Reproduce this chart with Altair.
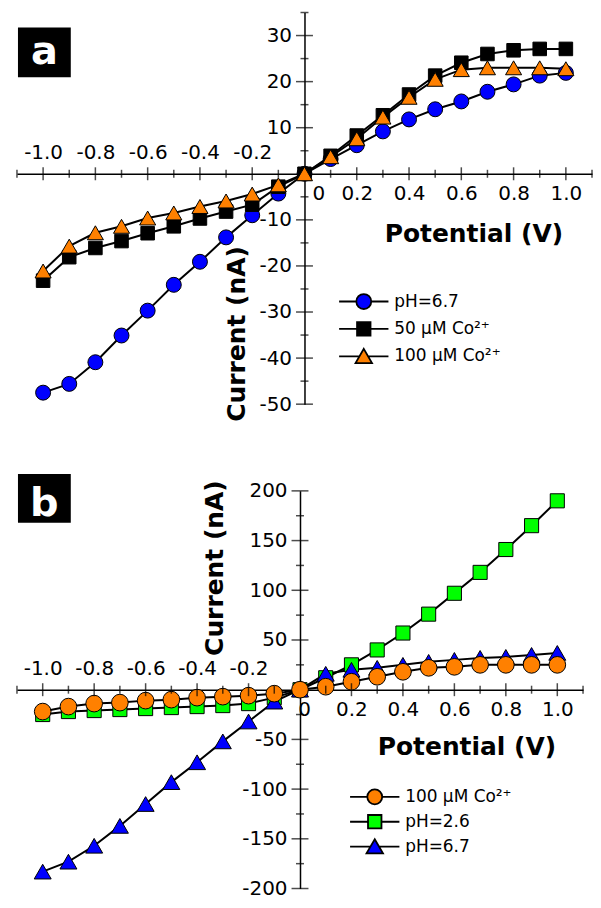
import altair as alt
import pandas as pd

FONT = "DejaVu Sans"

# ---------------- data ----------------
V = [-1.0, -0.9, -0.8, -0.7, -0.6, -0.5, -0.4, -0.3, -0.2, -0.1, 0.0,
     0.1, 0.2, 0.3, 0.4, 0.5, 0.6, 0.7, 0.8, 0.9, 1.0]

# panel a
a_names = ["pH=6.7", "50 µM Co²⁺", "100 µM Co²⁺"]
a_colors = ["#0000ff", "#000000", "#ff8000"]
a_ph67 = [-47.5, -45.6, -40.9, -35.1, -29.7, -24.1, -19.1, -13.8, -9.0, -4.3, 0.0,
          3.2, 6.2, 9.2, 11.8, 14.0, 15.7, 17.8, 19.4, 21.3, 21.9]
a_co50 = [-23.2, -18.1, -16.1, -14.6, -12.9, -11.4, -9.7, -8.2, -6.7, -2.8, 0.0,
          3.9, 8.3, 12.7, 17.2, 21.3, 24.1, 26.0, 26.8, 27.1, 27.1]
a_co100 = [-21.1, -15.7, -12.8, -11.4, -9.6, -8.5, -7.1, -5.9, -4.4, -2.4, 0.0,
           3.7, 7.6, 12.3, 16.6, 20.5, 22.6, 23.0, 23.0, 23.0, 22.8]

# panel b
b_names = ["100 µM Co²⁺", "pH=2.6", "pH=6.7"]
b_colors = ["#ff8000", "#00ff00", "#0000ff"]
b_co100 = [-22, -17, -14, -13, -11, -10, -8, -7, -6, -4, 0,
           3, 8, 13, 18, 22, 23, 25, 25, 25, 25]
b_ph26 = [-25, -22, -21, -20, -19, -18, -17, -16, -14, -8, 0,
          12, 25, 40, 57, 76, 97, 118, 141, 165, 190]
b_ph67 = [-183, -173, -157, -137, -115, -93, -73, -52, -32, -12, 0,
          16, 20, 22, 25, 28, 30, 32, 33, 35, 37]

# axes ticks / labels
x_labels = [-1.0, -0.8, -0.6, -0.4, -0.2, 0.0, 0.2, 0.4, 0.6, 0.8, 1.0]
x_major = [-1.0, -0.8, -0.6, -0.4, -0.2, 0.2, 0.4, 0.6, 0.8, 1.0]
x_minor = [-1.1, -0.9, -0.7, -0.5, -0.3, -0.1, 0.1, 0.3, 0.5, 0.7, 0.9, 1.1]
a_y_major = [-50, -40, -30, -20, -10, 10, 20, 30]
a_y_minor = [-45, -35, -25, -15, -5, 5, 15, 25, 35]
b_y_major = [-200, -150, -100, -50, 50, 100, 150, 200]
b_y_minor = [-175, -125, -75, -25, 25, 75, 125, 175]

CIRCLE_P = "M-3.3,0H-1M1,0H3.3M1,0A1,1,0,1,1,-1,0A1,1,0,1,1,1,0Z"
SQUARE_P = "M-3.3,0H-0.9M0.9,0H3.3M-0.9,-0.9H0.9V0.9H-0.9Z"
TRI_P = "M-3.3,0H-0.58M0.58,0H3.3M0,-1L1.1,0.9H-1.1Z"

X_LABEL_EXPR = ("datum.value == 0 ? '0' : "
                "(datum.value < 0 ? '-' : '') + format(abs(datum.value), '.1f')")


def panel(series, names, colors, shapes, sizes, paths, draw_order,
          xdom, ydom, W, H, y_major, y_minor, zero_shift,
          xtitle_xy, ytitle_xy, leg_xy, row_pad, box, label):
    rows = []
    for k, vals in enumerate(series):
        for v, i in zip(V, vals):
            rows.append({"V": v, "I": i, "series": names[k], "k": k})
    df = pd.DataFrame(rows)

    xscale = alt.Scale(domain=xdom, nice=False, zero=False)
    yscale = alt.Scale(domain=ydom, nice=False, zero=False)

    x_off = -(H * ydom[1] / (ydom[1] - ydom[0]))
    y_off = -(W * (0 - xdom[0]) / (xdom[1] - xdom[0]))

    # negative labels sit above the axis line, zero and positive ones below it
    xaxis = alt.Axis(
        orient="top", offset=x_off, values=x_labels, ticks=False, tickSize=0,
        grid=False, domainColor="black", domainWidth=1.5,
        labelExpr=X_LABEL_EXPR, labelLineHeight=41,
        labelBaseline={"condition": {"test": "datum.value < 0", "value": "line-bottom"},
                       "value": "line-top"},
        labelOffset={"condition": {"test": "datum.value === 0", "value": zero_shift},
                     "value": 0},
        labelFont=FONT, labelFontSize=20, labelColor="black", labelPadding=0,
        labelOverlap=False, labelFlush=False,
        title="Potential (V)", titleFont=FONT, titleFontSize=25,
        titleFontWeight="bold", titleColor="black",
        titleX=xtitle_xy[0], titleY=xtitle_xy[1],
        titleAlign="center", titleBaseline="alphabetic")
    yaxis = alt.Axis(
        orient="left", offset=y_off, values=y_major, ticks=False, tickSize=0,
        grid=False, domainColor="black", domainWidth=1.5,
        labelExpr="(datum.value < 0 ? '-' : '') + abs(datum.value)",
        labelFont=FONT, labelFontSize=20, labelColor="black", labelPadding=13,
        labelOverlap=False, labelFlush=False,
        title="Current (nA)", titleFont=FONT, titleFontSize=25,
        titleFontWeight="bold", titleColor="black", titleAngle=270,
        titleX=ytitle_xy[0], titleY=ytitle_xy[1],
        titleAlign="center", titleBaseline="middle")

    def X(f):
        return alt.X(f, scale=xscale, axis=xaxis)

    def Y(f):
        return alt.Y(f, scale=yscale, axis=yaxis)

    base = alt.Chart(df)
    lines = base.mark_line(color="black", strokeWidth=2).encode(
        x=X("V:Q"), y=Y("I:Q"), detail="k:N", order="V:Q")
    layers = [lines]
    for k in draw_order:
        layers.append(
            base.transform_filter(f"datum.k == {k}").mark_point(
                filled=True, shape=shapes[k], size=sizes[k], fill=colors[k],
                stroke="black", strokeWidth=1, opacity=1
            ).encode(x=X("V:Q"), y=Y("I:Q"))
        )

    leg = alt.Legend(
        orient="none", legendX=leg_xy[0], legendY=leg_xy[1], title=None,
        symbolSize=225, symbolStrokeWidth=1.8,
        symbolOpacity=1, labelFont=FONT, labelFontSize=17, labelColor="black",
        labelOffset=22, rowPadding=row_pad, padding=0, labelLimit=300)
    legend_layer = base.transform_filter("false").mark_point(
        filled=True, strokeWidth=1.8
    ).encode(
        x=X("V:Q"), y=Y("I:Q"),
        shape=alt.Shape("series:N", scale=alt.Scale(domain=names, range=paths), legend=leg),
        fill=alt.Fill("series:N", scale=alt.Scale(domain=names, range=colors), legend=leg),
        stroke=alt.Stroke("series:N", scale=alt.Scale(domain=names, range=["#000000"] * 3),
                          legend=leg),
    )
    layers.append(legend_layer)

    # tick marks crossing the axes
    xt_maj = alt.Chart(pd.DataFrame({"t": x_major})).mark_tick(
        orient="vertical", size=13, thickness=1.5, color="black").encode(
        x=X("t:Q"), y=alt.YDatum(0, scale=yscale, axis=yaxis))
    xt_min = alt.Chart(pd.DataFrame({"t": x_minor})).mark_tick(
        orient="vertical", size=8, thickness=1.5, color="black").encode(
        x=X("t:Q"), y=alt.YDatum(0, scale=yscale, axis=yaxis))
    yt_maj = alt.Chart(pd.DataFrame({"t": y_major})).mark_tick(
        orient="horizontal", size=17, thickness=1.5, color="black").encode(
        y=Y("t:Q"), x=alt.XDatum(0, scale=xscale, axis=xaxis))
    yt_min = alt.Chart(pd.DataFrame({"t": y_minor})).mark_tick(
        orient="horizontal", size=8, thickness=1.5, color="black").encode(
        y=Y("t:Q"), x=alt.XDatum(0, scale=xscale, axis=xaxis))
    layers += [xt_maj, xt_min, yt_maj, yt_min]

    lab = pd.DataFrame({"label": [label]})
    rect = alt.Chart(lab).mark_rect(color="black").encode(
        x=alt.value(box[0]), x2=alt.value(box[1]),
        y=alt.value(box[2]), y2=alt.value(box[3]))
    txt = alt.Chart(lab).mark_text(
        font=FONT, fontSize=40, fontWeight="bold", color="white",
        align="center", baseline="alphabetic").encode(
        x=alt.value((box[0] + box[1]) / 2), y=alt.value(box[4]),
        text="label:N")
    layers += [rect, txt]

    return alt.layer(*layers).properties(width=W, height=H)


pa = panel([a_ph67, a_co50, a_co100], a_names, a_colors,
           ["circle", "square", "triangle-up"], [225, 185, 260],
           [CIRCLE_P, SQUARE_P, TRI_P], [0, 1, 2],
           [-1.1, 1.1], [-50, 35], 577, 393, a_y_major, a_y_minor,
           14,
           (458, 68), (-68, 322), (339.5, 281.5), 5.5,
           (1, 54, 15, 65, 52), "a")

pb = panel([b_co100, b_ph26, b_ph67], b_names, b_colors,
           ["circle", "square", "triangle-up"], [280, 200, 290],
           [CIRCLE_P, SQUARE_P, TRI_P], [1, 2, 0],
           [-1.1, 1.1], [-200, 200], 568, 399, b_y_major, b_y_minor,
           4,
           (451, 65), (-86, 77), (350.5, 298.5), 3,
           (1, 54, -17, 32, 25), "b")

chart = alt.vconcat(pa, pb, spacing=87, bounds="flush").resolve_scale(
    x="independent", y="independent", fill="independent", shape="independent",
    stroke="independent"
).resolve_legend(fill="independent", shape="independent", stroke="independent").properties(
    padding={"left": 8, "top": 2, "right": 0, "bottom": 0}
).configure_view(stroke=None)

chart.save("out.html", embed_options={"renderer": "svg", "actions": False})
